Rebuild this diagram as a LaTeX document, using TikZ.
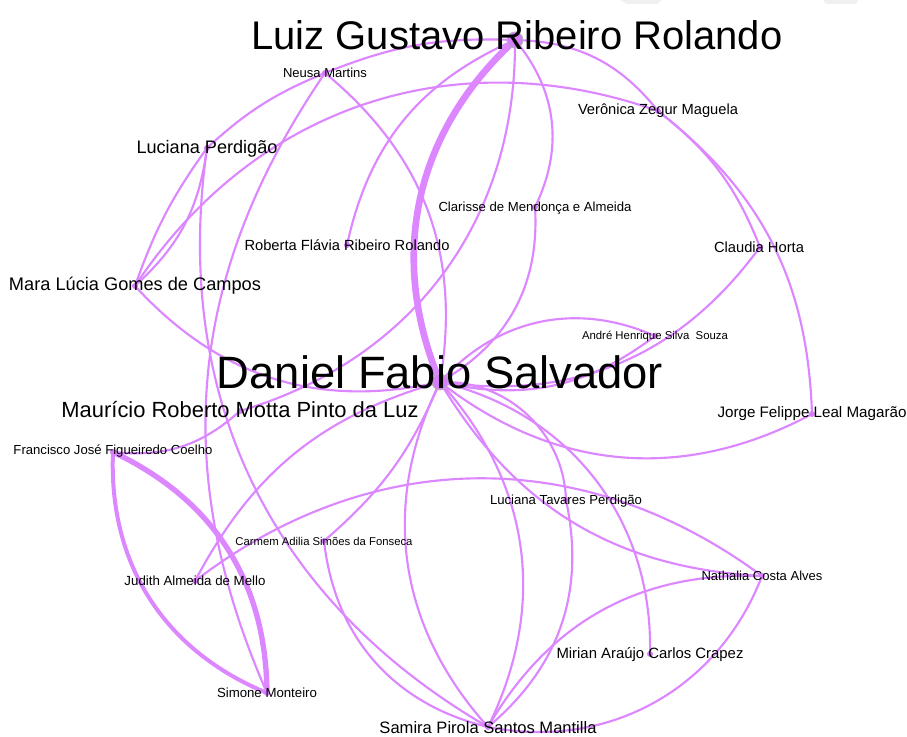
\documentclass[tikz,border=0pt]{standalone}
\usepackage{fontspec}
\setmainfont{Liberation Sans}
\usepackage{graphicx}
\usetikzlibrary{backgrounds}
\setlength{\unitlength}{0.75pt}
\newcommand{\nm}[2]{\resizebox{#1\unitlength}{!}{#2}}
\definecolor{edgeviolet}{RGB}{220,134,255}
\definecolor{dotviolet}{RGB}{214,125,250}

\begin{document}
\begin{tikzpicture}[x=0.75pt, y=0.75pt,
    link/.style={draw=edgeviolet, line width=1.6pt},
    heavy/.style={draw=edgeviolet, line width=5pt},
    vertex/.style={circle, fill=dotviolet, inner sep=0pt, minimum size=4.5pt},
    hub/.style={circle, fill=dotviolet, draw=gray!60, line width=0.6pt, inner sep=0pt, minimum size=12pt},
    pname/.style={inner sep=0pt, text=black}]
    \useasboundingbox (0,0) rectangle (907,737);
    % grey marks along the top edge
    \fill[gray!12] (620,737) -- (662,737) -- (657,733) -- (627,733) -- cycle;
    \fill[gray!12] (823,737) -- (858,737) -- (856,733) -- (826,733) -- cycle;

    % people
    \node[hub] (luiz) at (515,697) {};
    \node[hub] (daniel) at (440,355) {};
    \node[vertex] (neusa) at (325,664) {};
    \node[vertex] (veronica) at (658,626) {};
    \node[vertex] (lperdigao) at (207,589) {};
    \node[vertex] (clarisse) at (535,530) {};
    \node[vertex] (roberta) at (347,492) {};
    \node[vertex] (claudia) at (760,490) {};
    \node[vertex] (mara) at (135,451) {};
    \node[vertex] (andre) at (655,401) {};
    \node[vertex] (mauricio) at (240,326) {};
    \node[vertex] (francisco) at (113,285) {};
    \node[vertex] (ltavares) at (566,237) {};
    \node[vertex] (carmem) at (324,196) {};
    \node[vertex] (nathalia) at (762,161) {};
    \node[vertex] (judith) at (195,156) {};
    \node[vertex] (mirian) at (650,83) {};
    \node[vertex] (simone) at (267,44) {};
    \node[vertex] (samira) at (488,10) {};
    \node[vertex] (jorge) at (812,323) {};

    % links
    \begin{scope}[on background layer]
    \draw[heavy] (luiz.center) to[bend right=35] (daniel.center);
    \draw[heavy, line width=3pt] (francisco.center) to[bend right=35] (simone.center);
    \draw[heavy, line width=4pt] (francisco.center) to[bend left=32] (simone.center);
    \draw[link] (luiz.center) to[bend right=12] (neusa.center);
    \draw[link] (neusa.center) to[bend right=10] (lperdigao.center);
    \draw[link] (lperdigao.center) to[bend right=8] (mara.center);
    \draw[link] (lperdigao.center) to[bend left=20] (mara.center);
    \draw[link] (luiz.center) to[bend left=25] (veronica.center);
    \draw[link] (veronica.center) to[bend left=25] (jorge.center);
    \draw[link] (mara.center) to[bend left=38] (veronica.center);
    \draw[link] (veronica.center) to[bend left=15] (claudia.center);
    \draw[link] (luiz.center) to[bend right=27] (roberta.center);
    \draw[link] (luiz.center) to[bend left=37] (mauricio.center);
    \draw[link] (luiz.center) to[bend left=33] (clarisse.center);
    \draw[link] (clarisse.center) to[bend left=32] (daniel.center);
    \draw[link] (neusa.center) to[bend left=30] (daniel.center);
    \draw[link] (mara.center) to[bend right=30] (daniel.center);
    \draw[link] (lperdigao.center) to[bend right=34] (samira.center);
    \draw[link] (neusa.center) to[bend right=29] (simone.center);
    \draw[link] (mauricio.center) to[bend left=24] (francisco.center);
    \draw[link] (judith.center) to[bend left=23] (daniel.center);
    \draw[link] (judith.center) to[bend left=37] (nathalia.center);
    \draw[link] (daniel.center) to[bend left=13] (carmem.center);
    \draw[link] (carmem.center) to[bend right=35] (samira.center);
    \draw[link] (daniel.center) to[bend right=34] (samira.center);
    \draw[link] (daniel.center) to[bend left=34] (samira.center);
    \draw[link] (daniel.center) to[bend left=45] (ltavares.center);
    \draw[link] (ltavares.center) to[bend left=31] (samira.center);
    \draw[link] (daniel.center) to[bend left=39] (mirian.center);
    \draw[link] (daniel.center) to[bend right=28] (nathalia.center);
    \draw[link] (daniel.center) to[bend right=33] (jorge.center);
    \draw[link] (daniel.center) to[bend left=36] (andre.center);
    \draw[link] (daniel.center) to[bend right=25] (andre.center);
    \draw[link] (daniel.center) to[bend right=31] (claudia.center);
    \draw[link] (nathalia.center) to[bend right=31] (samira.center);
    \draw[link] (nathalia.center) to[bend left=40] (samira.center);
    \end{scope}

    % names
    \node[pname] (luiz-name) at (517,702) {\nm{531}{Luiz Gustavo Ribeiro Rolando}};
    \node[pname] (daniel-name) at (440,365) {\nm{446}{Daniel Fabio Salvador}};
    \node[pname] (neusa-name) at (325,664) {\nm{84}{Neusa Martins}};
    \node[pname] (veronica-name) at (658,626) {\nm{160}{Verônica Zegur Maguela}};
    \node[pname] (lperdigao-name) at (207,588) {\nm{141}{Luciana Perdigão}};
    \node[pname] (clarisse-name) at (535,529) {\nm{193}{Clarisse de Mendonça e Almeida}};
    \node[pname] (roberta-name) at (347,492) {\nm{205}{Roberta Flávia Ribeiro Rolando}};
    \node[pname] (claudia-name) at (759,490) {\nm{90}{Claudia Horta}};
    \node[pname] (mara-name) at (135,451) {\nm{252}{Mara Lúcia Gomes de Campos}};
    \node[pname] (andre-name) at (655,400) {\nm{146}{André Henrique Silva\ \ Souza}};
    \node[pname] (mauricio-name) at (240,327) {\nm{357}{Maurício Roberto Motta Pinto da Luz}};
    \node[pname] (francisco-name) at (113,286) {\nm{199}{Francisco José Figueiredo Coelho}};
    \node[pname] (ltavares-name) at (566,236) {\nm{152}{Luciana Tavares Perdigão}};
    \node[pname] (carmem-name) at (324,196) {\nm{177}{Carmem Adilia Simões da Fonseca}};
    \node[pname] (nathalia-name) at (762,161) {\nm{121}{Nathalia Costa Alves}};
    \node[pname] (judith-name) at (195,156) {\nm{141}{Judith Almeida de Mello}};
    \node[pname] (mirian-name) at (650,82) {\nm{187}{Mirian Araújo Carlos Crapez}};
    \node[pname] (simone-name) at (267,44) {\nm{100}{Simone Monteiro}};
    \node[pname] (samira-name) at (488,9) {\nm{217}{Samira Pirola Santos Mantilla}};
    \node[pname] (jorge-name) at (812,323) {\nm{189}{Jorge Felippe Leal Magarão}};
\end{tikzpicture}
\end{document}
